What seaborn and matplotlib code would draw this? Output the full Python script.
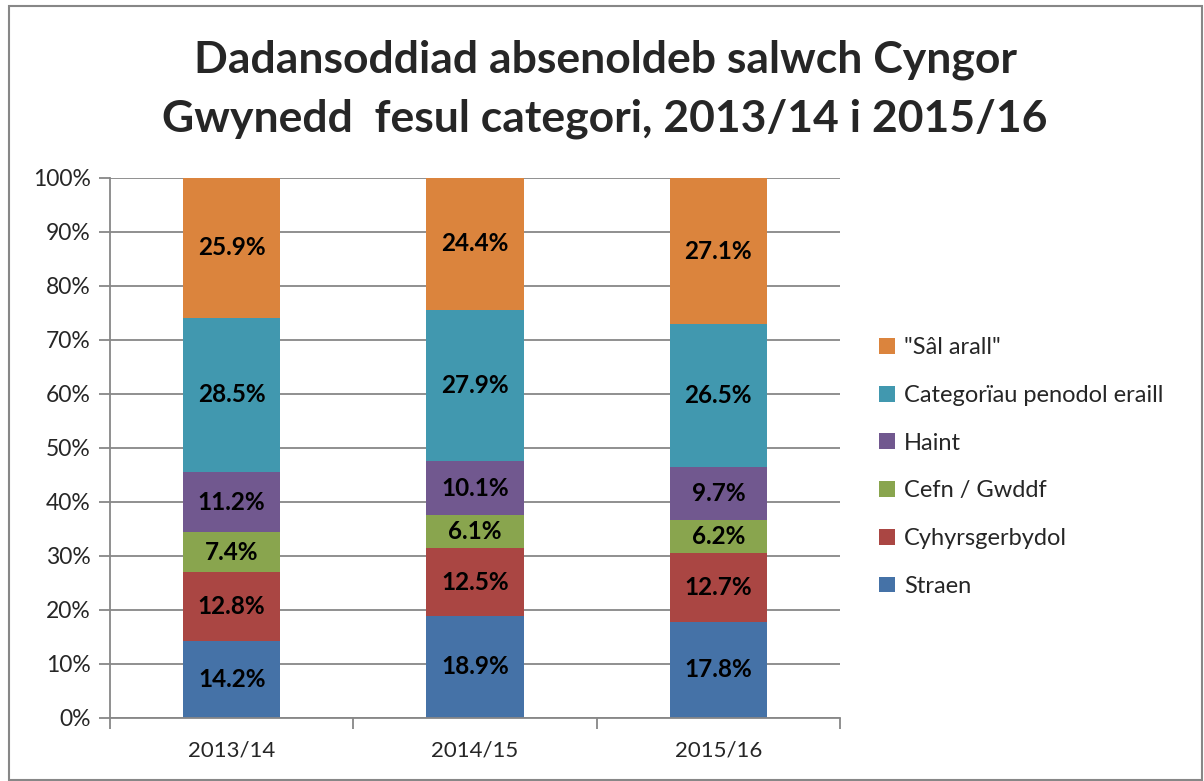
import matplotlib
matplotlib.use("Agg")
import matplotlib.pyplot as plt
import seaborn as sns
import numpy as np
import pandas as pd
from matplotlib.patches import Rectangle

years = ["2013/14", "2014/15", "2015/16"]
series_names = ["Straen", "Cyhyrsgerbydol", "Cefn / Gwddf", "Haint",
                "Categorïau penodol eraill", "\"Sâl arall\""]
straen = [14.2, 18.9, 17.8]
cyhyrsgerbydol = [12.8, 12.5, 12.7]
cefn = [7.4, 6.1, 6.2]
haint = [11.2, 10.1, 9.7]
penodol = [28.5, 27.9, 26.5]
sal_arall = [25.9, 24.4, 27.1]
colors = ["#4572A7", "#AA4643", "#89A54E", "#71588F", "#4198AF", "#DB843D"]
title = "Dadansoddiad absenoldeb salwch Cyngor\nGwynedd  fesul categori, 2013/14 i 2015/16"

sns.set_theme(style="white")
plt.rcParams['font.family'] = ['Lato', 'DejaVu Sans']

values = np.array([straen, cyhyrsgerbydol, cefn, haint, penodol, sal_arall])
shares = values / values.sum(axis=0) * 100

fig = plt.figure(figsize=(12.04, 7.81), dpi=100)
ax = fig.add_axes([110/1204, 1-718/781, 730/1204, 540/781])

bottom = np.zeros(len(years))
for i, name in enumerate(series_names):
    df = pd.DataFrame({"year": years, "val": shares[i]})
    sns.barplot(data=df, x="year", y="val", color=colors[i], bottom=bottom,
                width=0.4, ax=ax, label=name, saturation=1, linewidth=0)
    for j in range(len(years)):
        ax.text(j, bottom[j] + shares[i][j] / 2, f"{values[i][j]:.1f}%",
                ha="center", va="center", fontsize=17.5, fontweight="bold",
                color="black")
    bottom = bottom + shares[i]

handles, labels = ax.get_legend_handles_labels()
if ax.get_legend() is not None:
    ax.get_legend().remove()

ax.set_ylim(0, 100)
ax.set_xlim(-0.5, 2.5)
ax.set_yticks(np.arange(0, 101, 10))
ax.set_yticklabels([f"{v}%" for v in range(0, 101, 10)], fontsize=16.5)
ax.tick_params(axis="x", labelsize=16, length=0, pad=16)
ax.tick_params(axis="y", length=8, color="#878787", width=1.3, pad=6, left=True)
ax.set_xticks([0, 1, 2])
ax.set_xticks([-0.5, 0.5, 1.5, 2.5], minor=True)
ax.tick_params(axis="x", which="minor", length=8, color="#878787", width=1.3, bottom=True)
ax.set_xlabel("")
ax.set_ylabel("")
ax.yaxis.grid(True, color="#878787", linewidth=1.3)
ax.set_axisbelow(True)
for s in ["top", "right"]:
    ax.spines[s].set_visible(False)
for s in ["left", "bottom"]:
    ax.spines[s].set_color("#878787")
    ax.spines[s].set_linewidth(1.3)

leg = fig.legend(handles[::-1], labels[::-1], loc="center left",
                 bbox_to_anchor=(858/1204, 1-467/781), frameon=False,
                 fontsize=17, handlelength=0.65, handleheight=0.65,
                 handletextpad=0.4, labelspacing=1.13)

fig.text(605/1204, 1-89/781, title, ha="center", va="center", fontsize=32,
         fontweight="bold", linespacing=1.55)

fig.patches.append(Rectangle((9/1204, 1/781), 1193/1204, 774/781,
                             transform=fig.transFigure, fill=False,
                             edgecolor="#878787", linewidth=1.5))

fig.savefig("out.png", dpi=100)
